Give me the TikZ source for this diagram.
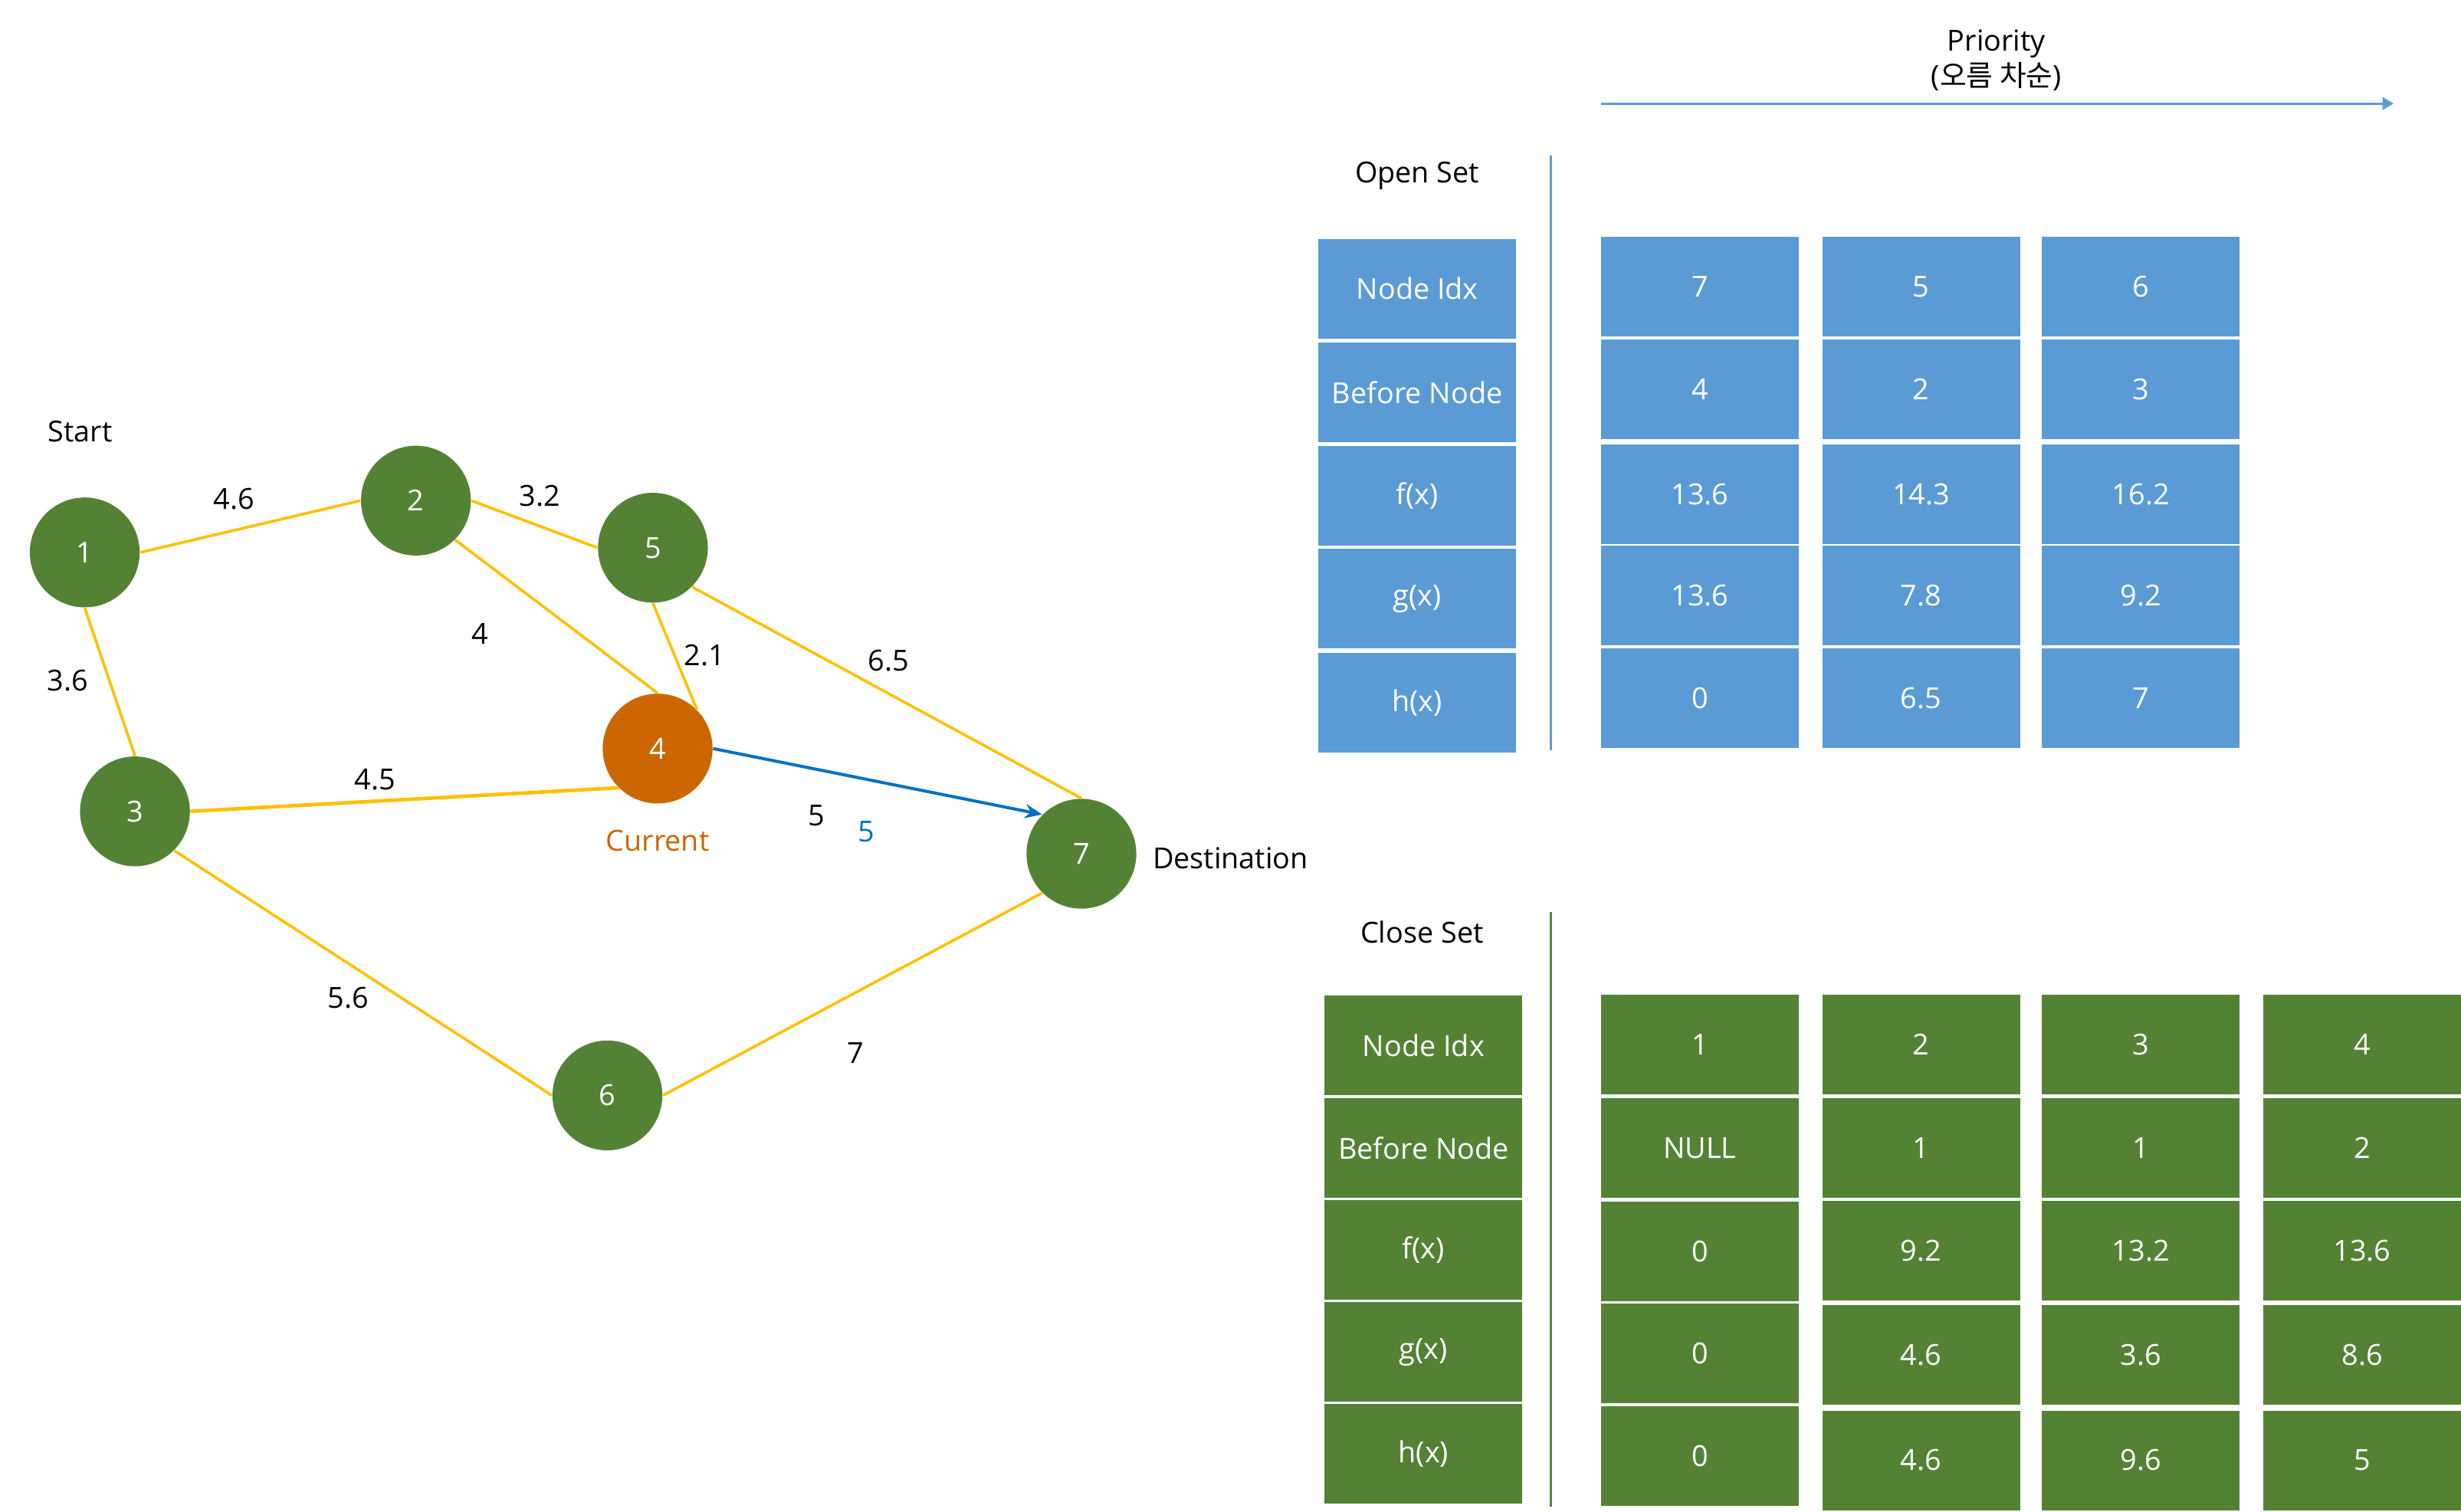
\documentclass[tikz,border=0pt]{standalone}
\usepackage{fontspec}
\setmainfont{Open Sans}
\newfontfamily\kr{Noto Sans CJK KR}
\usetikzlibrary{arrows.meta}
\definecolor{cgreen}{HTML}{548235}
\definecolor{cblue}{HTML}{5B9BD5}
\definecolor{cyellow}{HTML}{FFC000}
\definecolor{corange}{HTML}{CC6600}
\definecolor{carrow}{HTML}{0070C0}
\begin{document}
\begin{tikzpicture}[x=0.02cm,y=-0.02cm,
  every node/.style={font=\fontsize{10.5}{12}\selectfont, inner sep=0pt},
  gnode/.style={circle, fill=cgreen, minimum size=1.4cm, text=white},
  cnode/.style={circle, fill=corange, minimum size=1.4cm, text=white},
  edge/.style={draw=cyellow, line width=1pt},
  lbl/.style={text=black, yshift=-0.035cm},
  cellb/.style={fill=cblue, text=white, minimum width=2.52cm, minimum height=1.27cm},
  cellg/.style={fill=cgreen, text=white, minimum width=2.52cm, minimum height=1.27cm}]
\useasboundingbox (0,0) rectangle (1568,963.4);

% ---------- graph ----------
\node[gnode] (n1) at (54,352) {1};
\node[gnode] (n2) at (265,319) {2};
\node[gnode] (n5) at (416,349) {5};
\node[cnode] (n4) at (419,477) {4};
\node[gnode] (n3) at (86,517) {3};
\node[gnode] (n7) at (689,544) {7};
\node[gnode] (n6) at (387,698) {6};

\draw[edge] (n1.east) -- (n2.west);
\draw[edge] (n2.east) -- (n5.west);
\draw[edge] (n2.south east) -- (n4.north);
\draw[edge] (n5.south) -- (n4.north east);
\draw[edge] (n5.south east) -- (n7.north);
\draw[edge] (n1.south) -- (n3.north);
\draw[edge, line width=1.3pt] (n3.east) -- (n4.south west);
\draw[edge] (n3.south east) -- (n6.west);
\draw[edge] (n6.east) -- (n7.south west);
\draw[draw=carrow, line width=1.1pt, -{Stealth[length=2.2mm,width=1.8mm]}] (n4.east) -- (n7.north west);

\node[lbl] (tstart) at (51,273) {Start};
\node[lbl] (w12) at (149,316) {4.6};
\node[lbl] (w25) at (344,314) {3.2};
\node[lbl] (w24) at (306,402) {4};
\node[lbl] (w54) at (449,416) {2.1};
\node[lbl] (w57) at (566,419) {6.5};
\node[lbl] (w13) at (43,432) {3.6};
\node[lbl] (w34) at (239,495) {4.5};
\node[lbl, text=corange] (tcur) at (419,534) {Current};
\node[lbl] (w47) at (520,518) {5};
\node[lbl, text=carrow] (w47b) at (552,528) {5};
\node[lbl] (tdest) at (784,545) {Destination};
\node[lbl] (w36) at (222,634) {5.6};
\node[lbl] (w67) at (545,669) {7};

% ---------- priority ----------
\node[lbl] (tprio) at (1272,26) {Priority};
\node[lbl] (tasc) at (1272,47) {({\kr 오름 차순})};
\coordinate (pa) at (1020,66);
\coordinate (pb) at (1525,66);
\draw[draw=cblue, line width=0.9pt, -{Triangle[length=1.4mm,width=1.6mm]}] (pa) -- (pb);

% ---------- open set ----------
\node[lbl] (topen) at (903,110) {Open Set};
\coordinate (ov1) at (988,99);
\coordinate (ov2) at (988,478);
\draw[draw=cblue, line width=0.9pt] (ov1) -- (ov2);

\node[cellb] (oh1) at (903,184) {Node Idx};
\node[cellb] (oh2) at (903,250) {Before Node};
\node[cellb] (oh3) at (903,316) {f(x)};
\node[cellb] (oh4) at (903,381.5) {g(x)};
\node[cellb] (oh5) at (903,448) {h(x)};

\node[cellb] (oa1) at (1083,182.5) {7};
\node[cellb] (oa2) at (1083,248) {4};
\node[cellb] (oa3) at (1083,315) {13.6};
\node[cellb] (oa4) at (1083,379.5) {13.6};
\node[cellb] (oa5) at (1083,445) {0};

\node[cellb] (ob1) at (1224,182.5) {5};
\node[cellb] (ob2) at (1224,248) {2};
\node[cellb] (ob3) at (1224,315) {14.3};
\node[cellb] (ob4) at (1224,379.5) {7.8};
\node[cellb] (ob5) at (1224,445) {6.5};

\node[cellb] (oc1) at (1364,182.5) {6};
\node[cellb] (oc2) at (1364,248) {3};
\node[cellb] (oc3) at (1364,315) {16.2};
\node[cellb] (oc4) at (1364,379.5) {9.2};
\node[cellb] (oc5) at (1364,445) {7};

% ---------- close set ----------
\node[lbl] (tclose) at (906,592) {Close Set};
\coordinate (cv1) at (988,581);
\coordinate (cv2) at (988,960);
\draw[draw=cgreen, line width=0.9pt] (cv1) -- (cv2);

\node[cellg] (ch1) at (907,666) {Node Idx};
\node[cellg] (ch2) at (907,731.5) {Before Node};
\node[cellg] (ch3) at (907,796.5) {f(x)};
\node[cellg] (ch4) at (907,861.5) {g(x)};
\node[cellg] (ch5) at (907,926.5) {h(x)};

\node[cellg] (ca1) at (1083,665.5) {1};
\node[cellg] (ca2) at (1083,731.5) {NULL};
\node[cellg] (ca3) at (1083,797.5) {0};
\node[cellg] (ca4) at (1083,862.5) {0};
\node[cellg] (ca5) at (1083,928) {0};

\node[cellg] (cb1) at (1224,665.5) {2};
\node[cellg] (cb2) at (1224,731.5) {1};
\node[cellg] (cb3) at (1224,797) {9.2};
\node[cellg] (cb4) at (1224,863.5) {4.6};
\node[cellg] (cb5) at (1224,930.5) {4.6};

\node[cellg] (cc1) at (1364,665.5) {3};
\node[cellg] (cc2) at (1364,731.5) {1};
\node[cellg] (cc3) at (1364,797) {13.2};
\node[cellg] (cc4) at (1364,863.5) {3.6};
\node[cellg] (cc5) at (1364,930.5) {9.6};

\node[cellg] (cd1) at (1505,665.5) {4};
\node[cellg] (cd2) at (1505,731.5) {2};
\node[cellg] (cd3) at (1505,797) {13.6};
\node[cellg] (cd4) at (1505,863.5) {8.6};
\node[cellg] (cd5) at (1505,930.5) {5};
\end{tikzpicture}
\end{document}
